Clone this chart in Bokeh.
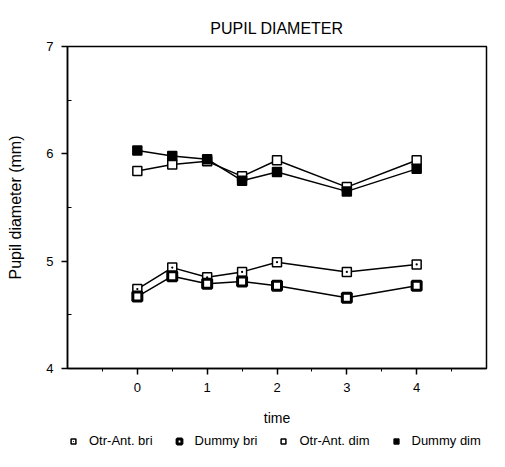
from bokeh.plotting import figure
from bokeh.models import FixedTicker, Legend, LegendItem, Range1d
from bokeh.layouts import column
from bokeh.embed import file_html
from bokeh.resources import INLINE

time = [0, 0.5, 1, 1.5, 2, 3, 4]
otr_bri = [4.74, 4.94, 4.85, 4.90, 4.99, 4.90, 4.97]
dummy_bri = [4.67, 4.86, 4.79, 4.81, 4.77, 4.66, 4.77]
otr_dim = [5.84, 5.90, 5.93, 5.79, 5.94, 5.69, 5.94]
dummy_dim = [6.03, 5.98, 5.95, 5.75, 5.83, 5.65, 5.86]
series_labels = ["Otr-Ant. bri", "Dummy bri", "Otr-Ant. dim", "Dummy dim"]
x_ticks = [0, 1, 2, 3, 4]
x_minor = [-0.5, 0.5, 1.5, 2.5, 3.5, 4.5]
y_ticks = [4, 5, 6, 7]
y_minor = [4.5, 5.5, 6.5]

FONT = "Liberation Sans"

p = figure(width=489, height=428, output_backend="svg", toolbar_location=None,
           x_range=Range1d(-1, 5), y_range=Range1d(4, 7),
           title="PUPIL DIAMETER", min_border_left=67, min_border_right=3,
           min_border_top=46, min_border_bottom=0)
p.title.align = "center"
p.title.text_font = FONT
p.title.text_font_size = "16px"
p.title.text_font_style = "normal"
p.title.text_color = "black"
p.title.offset = 0
p.title.standoff = 20

p.xgrid.visible = False
p.ygrid.visible = False
p.outline_line_color = "black"
p.outline_line_width = 1.5
p.background_fill_color = "white"
p.border_fill_color = "white"

p.xaxis.ticker = FixedTicker(ticks=x_ticks, minor_ticks=x_minor)
p.yaxis.ticker = FixedTicker(ticks=y_ticks, minor_ticks=y_minor)
p.xaxis.axis_label = "time"
p.yaxis.axis_label = "Pupil diameter (mm)"
for ax in (p.xaxis[0], p.yaxis[0]):
    ax.axis_label_text_font = FONT
    ax.axis_label_text_font_style = "normal"
    ax.axis_label_text_font_size = "14px"
    ax.axis_label_text_color = "black"
    ax.major_label_text_font = FONT
    ax.major_label_text_font_size = "13px"
    ax.major_label_text_color = "black"
    ax.major_label_standoff = 8
    ax.axis_line_color = "black"
    ax.axis_line_width = 1.5
    ax.major_tick_in = 0
    ax.major_tick_out = 6
    ax.major_tick_line_width = 1.5
p.yaxis.axis_label_text_font_size = "16px"
p.xaxis.minor_tick_in = 0
p.xaxis.minor_tick_out = 3
p.yaxis.minor_tick_in = 4
p.yaxis.minor_tick_out = 0
p.xaxis.axis_label_standoff = 15
p.yaxis.axis_label_standoff = 19

styles = [
    dict(marker="square_dot", fill_color="white", line_width=1.5),
    dict(marker="square", fill_color="white", line_width=3),
    dict(marker="square", fill_color="white", line_width=1.5),
    dict(marker="square", fill_color="black", line_width=1.5),
]
series = [otr_bri, dummy_bri, otr_dim, dummy_dim]
sz = 9
for ys, st in zip(series, styles):
    p.line(time, ys, line_color="black", line_width=1.5)
    p.scatter(time, ys, size=sz, line_color="black", **st)

# legend strip below the chart (its own points lie outside its view)
lg = figure(width=489, height=23, output_backend="svg", toolbar_location=None,
            x_axis_type=None, y_axis_type=None,
            x_range=Range1d(100, 101), y_range=Range1d(100, 101),
            min_border_left=0, min_border_right=0, min_border_top=0,
            min_border_bottom=0)
lg.outline_line_color = None
lg.xgrid.visible = False
lg.ygrid.visible = False
items = []
for lab, ys, st in zip(series_labels, series, styles):
    r = lg.scatter(time[:1], ys[:1], size=sz, line_color="black", **st)
    items.append(LegendItem(label=lab, renderers=[r]))
legend = Legend(items=items, orientation="horizontal", border_line_color=None,
                background_fill_alpha=0, location=(0, 3),
                label_text_font=FONT, label_text_font_size="13px",
                label_text_color="black",
                spacing=20, label_standoff=10, glyph_width=12, glyph_height=14,
                padding=0, margin=0)
lg.add_layout(legend)

layout = column(p, lg, spacing=0)
open("out.html", "w").write(file_html(layout, INLINE))
